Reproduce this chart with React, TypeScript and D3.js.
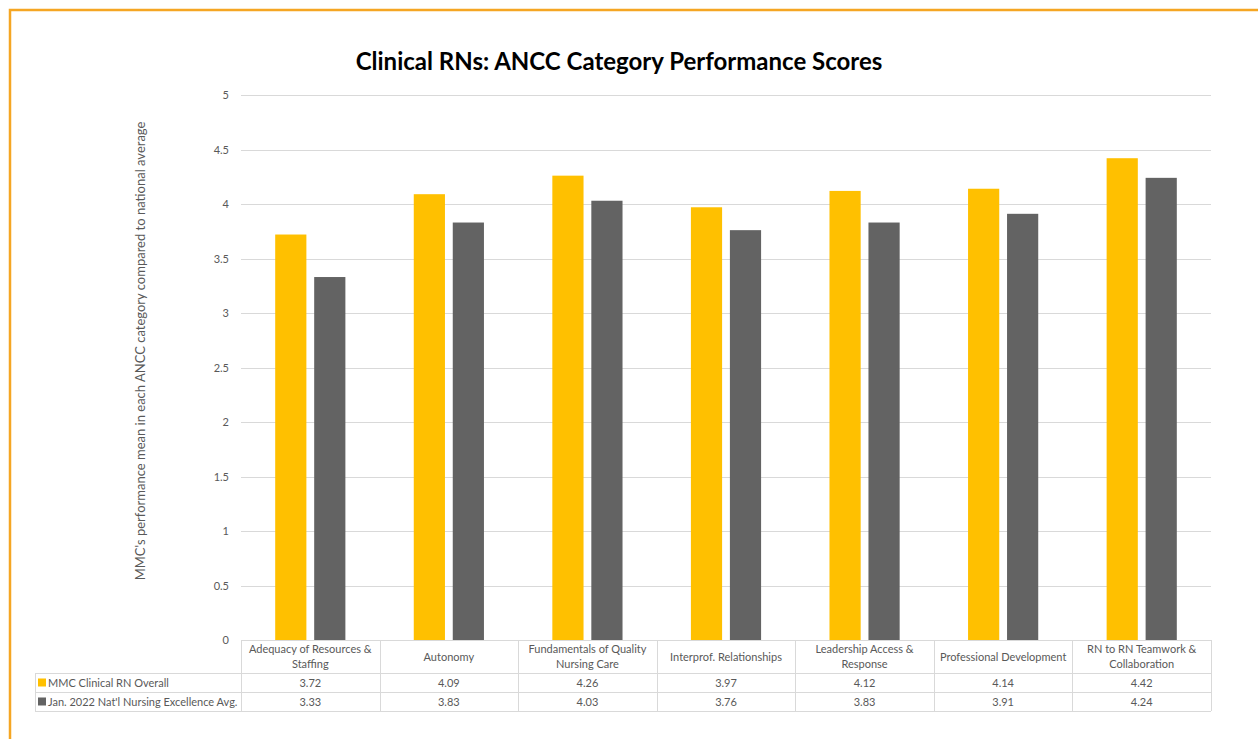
import React, { useEffect, useRef } from 'react';
import * as d3 from 'd3';

const width = 1258;
const height = 739;

const categories = [
  'Adequacy of Resources &\nStaffing',
  'Autonomy',
  'Fundamentals of Quality\nNursing Care',
  'Interprof. Relationships',
  'Leadership Access &\nResponse',
  'Professional Development',
  'RN to RN Teamwork &\nCollaboration',
];
const seriesNames = ['MMC Clinical RN Overall', "Jan. 2022 Nat'l Nursing Excellence Avg."];
const mmcScores = [3.72, 4.09, 4.26, 3.97, 4.12, 4.14, 4.42];
const nationalScores = [3.33, 3.83, 4.03, 3.76, 3.83, 3.91, 4.24];
const yTicks = [0, 0.5, 1, 1.5, 2, 2.5, 3, 3.5, 4, 4.5, 5];
const colors = ['#FFC000', '#636363'];

const font = 'Lato, "Open Sans", sans-serif';
const textColor = '#595959';
const lineColor = '#d9d9d9';

const App: React.FC = () => {
  const ref = useRef<SVGSVGElement>(null);

  useEffect(() => {
    if (!ref.current) return;
    const svg = d3.select(ref.current);
    svg.selectAll('*').remove();

    const plotLeft = 241;
    const plotRight = 1211;
    const plotTop = 95;
    const plotBottom = 640;
    const tableLeft = 35;
    const rowY = [640, 673, 692, 711];

    const x = d3
      .scaleBand<string>()
      .domain(categories)
      .range([plotLeft, plotRight])
      .paddingInner(0)
      .paddingOuter(0);
    const inner = d3
      .scaleBand<number>()
      .domain([0, 1])
      .range([0, x.bandwidth()])
      .paddingInner(0.2)
      .paddingOuter(0.877);
    const y = d3.scaleLinear().domain([0, 5]).range([plotBottom, plotTop]);

    // orange frame
    svg
      .append('rect')
      .attr('x', 10)
      .attr('y', 10)
      .attr('width', 1400)
      .attr('height', 900)
      .attr('fill', 'none')
      .attr('stroke', '#F5A623')
      .attr('stroke-width', 2.5);

    // title
    svg
      .append('text')
      .attr('x', 619)
      .attr('y', 70)
      .attr('text-anchor', 'middle')
      .attr('font-family', font)
      .attr('font-weight', 'bold')
      .attr('font-size', 24)
      .attr('fill', '#000')
      .text('Clinical RNs: ANCC Category Performance Scores');

    // y label
    svg
      .append('text')
      .attr('transform', `translate(145,351) rotate(-90)`)
      .attr('text-anchor', 'middle')
      .attr('font-family', font)
      .attr('font-size', 13)
      .attr('fill', textColor)
      .text("MMC's performance mean in each ANCC category compared to national average");

    // gridlines
    svg
      .append('g')
      .selectAll('line')
      .data(yTicks.filter(t => t > 0))
      .enter()
      .append('line')
      .attr('x1', plotLeft)
      .attr('x2', plotRight)
      .attr('y1', d => Math.round(y(d)) + 0.5)
      .attr('y2', d => Math.round(y(d)) + 0.5)
      .attr('stroke', lineColor)
      .attr('stroke-width', 1);

    // tick labels
    svg
      .append('g')
      .selectAll('text')
      .data(yTicks)
      .enter()
      .append('text')
      .attr('x', 229)
      .attr('y', d => y(d) + 4)
      .attr('text-anchor', 'end')
      .attr('font-family', font)
      .attr('font-size', 11)
      .attr('fill', textColor)
      .text(d => String(d));

    // bars
    const series = [mmcScores, nationalScores];
    series.forEach((vals, si) => {
      svg
        .append('g')
        .selectAll('rect')
        .data(vals)
        .enter()
        .append('rect')
        .attr('x', (d, i) => (x(categories[i]) as number) + (inner(si) as number))
        .attr('y', d => y(d))
        .attr('width', inner.bandwidth())
        .attr('height', d => y(0) - y(d))
        .attr('fill', colors[si]);
    });

    // data table
    const grid = svg.append('g').attr('stroke', lineColor).attr('stroke-width', 1);
    grid
      .append('line')
      .attr('x1', plotLeft)
      .attr('x2', plotRight)
      .attr('y1', rowY[0] + 0.5)
      .attr('y2', rowY[0] + 0.5);
    rowY.slice(1).forEach(ry => {
      grid
        .append('line')
        .attr('x1', tableLeft)
        .attr('x2', plotRight)
        .attr('y1', ry + 0.5)
        .attr('y2', ry + 0.5);
    });
    grid
      .append('line')
      .attr('x1', tableLeft + 0.5)
      .attr('x2', tableLeft + 0.5)
      .attr('y1', rowY[1])
      .attr('y2', rowY[3]);
    categories.forEach(c => {
      const cx = Math.round(x(c) as number) + 0.5;
      grid.append('line').attr('x1', cx).attr('x2', cx).attr('y1', rowY[0]).attr('y2', rowY[3]);
    });
    grid
      .append('line')
      .attr('x1', plotRight + 0.5)
      .attr('x2', plotRight + 0.5)
      .attr('y1', rowY[0])
      .attr('y2', rowY[3]);

    // header labels
    categories.forEach(c => {
      const lines = c.split('\n');
      const cx = (x(c) as number) + x.bandwidth() / 2;
      const mid = (rowY[0] + rowY[1]) / 2;
      const lh = 15;
      lines.forEach((ln, li) => {
        svg
          .append('text')
          .attr('x', cx)
          .attr('y', mid + (li - (lines.length - 1) / 2) * lh + 4)
          .attr('text-anchor', 'middle')
          .attr('font-family', font)
          .attr('font-size', 11)
          .attr('fill', textColor)
          .text(ln);
      });
    });

    // rows
    series.forEach((vals, si) => {
      const cy = (rowY[si + 1] + rowY[si + 2]) / 2;
      svg
        .append('rect')
        .attr('x', 38)
        .attr('y', cy - 4)
        .attr('width', 8)
        .attr('height', 8)
        .attr('fill', colors[si]);
      svg
        .append('text')
        .attr('x', 48)
        .attr('y', cy + 4)
        .attr('font-family', font)
        .attr('font-size', 11)
        .attr('fill', textColor)
        .text(seriesNames[si]);
      svg
        .append('g')
        .selectAll('text')
        .data(vals)
        .enter()
        .append('text')
        .attr('x', (d, i) => (x(categories[i]) as number) + x.bandwidth() / 2)
        .attr('y', cy + 4)
        .attr('text-anchor', 'middle')
        .attr('font-family', font)
        .attr('font-size', 11)
        .attr('fill', textColor)
        .text(d => d.toFixed(2));
    });
  }, []);

  return (
    <svg
      ref={ref}
      width={width}
      height={height}
      style={{ position: 'absolute', top: 0, left: 0, background: '#fff' }}
    />
  );
};

export default App;
